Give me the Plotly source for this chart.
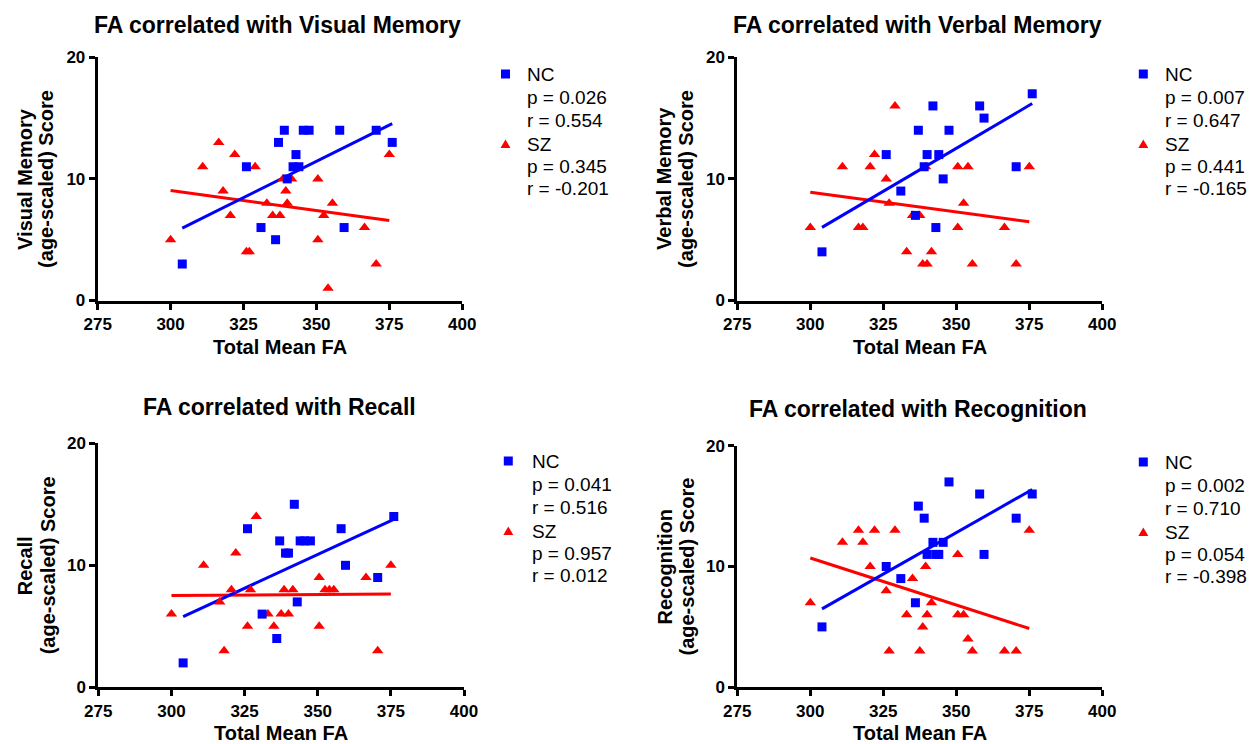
import numpy as np
import plotly.graph_objects as go

W, H = 1251, 744
FONT = "Liberation Sans, Arial, sans-serif"

# ---------------- data ----------------
NC_FA = [304, 326, 331, 336, 337, 339, 340, 342, 343, 344, 345.5, 347.5, 358, 359.5, 370.5, 376]
SZ_FA = [300, 311, 316.5, 318, 320.5, 322, 326, 327, 329, 333, 335, 337.5, 338.5, 339.5,
         340, 341.5, 350.5, 350.5, 352.5, 354, 355.5, 366.5, 370.5, 375]

NC_VISUAL = [3, 11, 6, 5, 13, 14, 10, 11, 12, 11, 14, 14, 14, 6, 14, 13]
SZ_VISUAL = [5, 11, 13, 9, 7, 12, 4, 4, 11, 8, 7, 7, 10, 9, 8, 10, 10, 5, 7, 1, 8, 6, 3, 12]

NC_VERBAL = [4, 12, 9, 7, 14, 11, 12, 16, 6, 12, 10, 14, 16, 15, 11, 17]
SZ_VERBAL = [6, 11, 6, 6, 11, 12, 10, 8, 16, 4, 7, 7, 3, 11, 3, 4, 11, 6, 8, 11, 3, 6, 3, 11]

NC_RECALL = [2, 13, 6, 4, 12, 11, 11, 15, 7, 12, 12, 12, 13, 10, 9, 14]
SZ_RECALL = [6, 10, 7, 3, 8, 11, 5, 8, 14, 6, 5, 6, 8, 11, 6, 8, 9, 5, 8, 8, 8, 9, 3, 10]

NC_RECOG = [5, 10, 9, 7, 15, 14, 11, 12, 11, 11, 12, 17, 16, 11, 14, 16]
SZ_RECOG = [7, 12, 13, 12, 10, 13, 8, 3, 13, 6, 9, 3, 5, 10, 6, 7, 11, 6, 6, 4, 3, 3, 3, 13]

TITLES = ["FA correlated with Visual Memory", "FA correlated with Verbal Memory",
          "FA correlated with Recall", "FA correlated with Recognition"]
Y_LABELS = ["Visual Memory", "Verbal Memory", "Recall", "Recognition"]
Y_SUB = "(age-scaled) Score"
X_LABEL = "Total Mean FA"
NC_P = ["0.026", "0.007", "0.041", "0.002"]
NC_R = ["0.554", "0.647", "0.516", "0.710"]
SZ_P = ["0.345", "0.441", "0.957", "0.054"]
SZ_R = ["-0.201", "-0.165", "0.012", "-0.398"]
X_TICKS = [275, 300, 325, 350, 375, 400]
Y_TICKS = [0, 10, 20]

NC_Y = [NC_VISUAL, NC_VERBAL, NC_RECALL, NC_RECOG]
SZ_Y = [SZ_VISUAL, SZ_VERBAL, SZ_RECALL, SZ_RECOG]

BLUE = "#0000FF"
RED = "#FF0000"

# ---------------- layout geometry (pixels) ----------------
# plot area [left, right, top, bottom]
PANELS = [
    (97.7, 462.2, 57.3, 300.5),
    (737.3, 1102.3, 57.3, 300.5),
    (98.3, 464.0, 443.3, 687.3),
    (737.3, 1102.3, 445.7, 687.3),
]
TITLE_Y = [25, 25, 407, 409]
XTITLE_Y = [347, 347, 733, 733]
YT1_X = [25, 664, 25, 664]
YT2_X = [46, 686, 48, 686]
LEG_SYM_X = [505.5, 1143.3, 508.3, 1143.3]
LEG_TXT_X = [525, 1163, 530, 1163]
LEG_TOP = [74, 74, 461, 462]
LEG_DY = [0, 23.5, 46.5, 70.5, 92.5, 114.5]


def PX(x):
    return x / W


def PY(y):
    return 1 - y / H


fig = go.Figure()
annotations = []
shapes = []

for i in range(4):
    l, r, t, b = PANELS[i]
    xa = "x" if i == 0 else f"x{i+1}"
    ya = "y" if i == 0 else f"y{i+1}"
    axkey = "" if i == 0 else str(i + 1)

    common = dict(showline=True, linecolor="black", linewidth=3,
                  ticks="outside", ticklen=6, tickwidth=3, tickcolor="black",
                  showgrid=False, zeroline=False, fixedrange=True, automargin=False,
                  tickfont=dict(family=FONT, size=17, color="black", weight="bold"))
    fig.update_layout(**{
        f"xaxis{axkey}": dict(domain=[PX(l), PX(r)], range=[275, 400], tickvals=X_TICKS,
                              anchor=ya, **common),
        f"yaxis{axkey}": dict(domain=[PY(b), PY(t)], range=[0, 20], tickvals=Y_TICKS,
                              anchor=xa, **common),
    })

    # regression lines
    for xs, ys, col in ((SZ_FA, SZ_Y[i], RED), (NC_FA, NC_Y[i], BLUE)):
        k, c = np.polyfit(xs, ys, 1)
        lx = np.array([min(xs), max(xs)])
        fig.add_trace(go.Scatter(x=lx, y=k * lx + c, mode="lines", xaxis=xa, yaxis=ya,
                                 line=dict(color=col, width=3), showlegend=False,
                                 hoverinfo="skip"))

    fig.add_trace(go.Scatter(x=SZ_FA, y=SZ_Y[i], mode="markers", xaxis=xa, yaxis=ya,
                             marker=dict(symbol="triangle-up", size=10, color=RED,
                                         line=dict(width=0)),
                             showlegend=False, cliponaxis=False, name="SZ"))
    fig.add_trace(go.Scatter(x=NC_FA, y=NC_Y[i], mode="markers", xaxis=xa, yaxis=ya,
                             marker=dict(symbol="square", size=9, color=BLUE,
                                         line=dict(width=0)),
                             showlegend=False, cliponaxis=False, name="NC"))

    cx = (l + r) / 2
    cy = (t + b) / 2
    # title
    annotations.append(dict(text=TITLES[i], x=PX(cx - 2), y=PY(TITLE_Y[i]), xref="paper",
                            yref="paper", showarrow=False, xanchor="center", yanchor="middle",
                            font=dict(family=FONT, size=23, color="black", weight="bold")))
    # x title
    annotations.append(dict(text=X_LABEL, x=PX(cx), y=PY(XTITLE_Y[i]), xref="paper",
                            yref="paper", showarrow=False, xanchor="center", yanchor="middle",
                            font=dict(family=FONT, size=20, color="black", weight="bold")))
    # y title (two lines)
    for txt, xx in ((Y_LABELS[i], YT1_X[i]), (Y_SUB, YT2_X[i])):
        annotations.append(dict(text=txt, x=PX(xx), y=PY(cy), xref="paper", yref="paper",
                                showarrow=False, xanchor="center", yanchor="middle",
                                textangle=-90,
                                font=dict(family=FONT, size=20, color="black", weight="bold")))
    # legend text
    lines = ["NC", f"p = {NC_P[i]}", f"r = {NC_R[i]}",
             "SZ", f"p = {SZ_P[i]}", f"r = {SZ_R[i]}"]
    for txt, dy in zip(lines, LEG_DY):
        annotations.append(dict(text=txt, x=PX(LEG_TXT_X[i]), y=PY(LEG_TOP[i] + dy),
                                xref="paper", yref="paper", showarrow=False,
                                xanchor="left", yanchor="middle",
                                font=dict(family=FONT, size=19, color="black")))
    # legend symbols
    sx, sy1, sy2 = LEG_SYM_X[i], LEG_TOP[i], LEG_TOP[i] + LEG_DY[3]
    shapes.append(dict(type="rect", xref="paper", yref="paper",
                       xsizemode="pixel", ysizemode="pixel",
                       xanchor=PX(sx), yanchor=PY(sy1),
                       x0=-4.5, x1=4.5, y0=-4.5, y1=4.5,
                       fillcolor=BLUE, line=dict(width=0)))
    shapes.append(dict(type="path", xref="paper", yref="paper",
                       xsizemode="pixel", ysizemode="pixel",
                       xanchor=PX(sx), yanchor=PY(sy2),
                       path="M-5,-3.5 L5,-3.5 L0,5 Z",
                       fillcolor=RED, line=dict(width=0)))

fig.update_layout(template="none", width=W, height=H, autosize=False,
                  margin=dict(l=0, r=0, t=0, b=0, pad=0),
                  paper_bgcolor="white", plot_bgcolor="white",
                  showlegend=False,
                  annotations=annotations, shapes=shapes,
                  font=dict(family=FONT, color="black"))

fig.write_html("out.html", config={"displayModeBar": False},
               post_script="document.body.style.margin='0';document.documentElement.style.overflow='hidden';")
